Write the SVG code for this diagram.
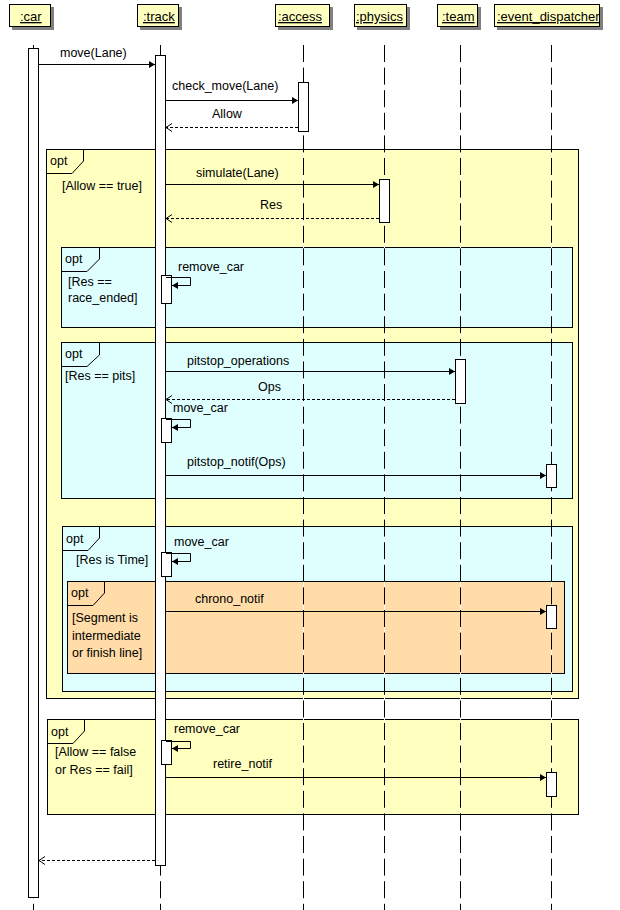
<svg xmlns="http://www.w3.org/2000/svg" width="620" height="910" viewBox="0 0 620 910">
<style>
text{font-family:"Liberation Sans",Arial,sans-serif;font-size:12.5px;fill:#000}
.hd{font-size:13px;text-decoration:underline}
.hbox{fill:#FFFFC0;stroke:#000;stroke-width:1}
.shadow{fill:#808080}
.fy{fill:#FFFFC0;stroke:#000;stroke-width:1}
.fc{fill:#DFFFFF;stroke:#000;stroke-width:1}
.fo{fill:#FFDCA8;stroke:#000;stroke-width:1}
.tab{fill:none;stroke:#000;stroke-width:1}
.llw{stroke:#fff;stroke-width:1}
.ll{stroke:#000;stroke-width:1;stroke-dasharray:17 5.6}
.act{fill:#fff;stroke:#000;stroke-width:1}
.msg{fill:none;stroke:#000;stroke-width:1;marker-end:url(#fa)}
.ret{fill:none;stroke:#000;stroke-width:1;stroke-dasharray:3 2;marker-end:url(#oa)}
</style>
<defs>
<marker id="fa" markerUnits="userSpaceOnUse" markerWidth="8" markerHeight="9" refX="6" refY="4" orient="auto" overflow="visible">
<path d="M0,0.5 L6,4 L0,7.5 z" fill="#000"/>
</marker>
<marker id="oa" markerUnits="userSpaceOnUse" markerWidth="8" markerHeight="10" refX="6" refY="4" orient="auto" overflow="visible">
<path d="M0,0 L6,4 L0,8" fill="none" stroke="#000" stroke-width="1"/>
</marker>
</defs>
<rect width="620" height="910" fill="#fff"/>

<!-- frames -->
<g id="frame_allow_true">
<rect class="fy" x="46.5" y="149.5" width="532" height="549"/>
<path class="tab" d="M46.5,173.5 H72 L83.5,161 V149.5"/>
<text x="50" y="165">opt</text>
<text x="62" y="190">[Allow == true]</text>
</g>
<g id="frame_race_ended">
<rect class="fc" x="61.5" y="247.5" width="511" height="80"/>
<path class="tab" d="M61.5,271.5 H87 L99.5,259 V247.5"/>
<text x="65" y="263">opt</text>
<text x="68" y="286">[Res ==</text>
<text x="68" y="302">race_ended]</text>
</g>
<g id="frame_pits">
<rect class="fc" x="61.5" y="342.5" width="511" height="156"/>
<path class="tab" d="M61.5,366.5 H87 L99.5,355 V342.5"/>
<text x="65" y="358">opt</text>
<text x="65" y="380">[Res == pits]</text>
</g>
<g id="frame_time">
<rect class="fc" x="62.5" y="526.5" width="510" height="165"/>
<path class="tab" d="M62.5,550.5 H88 L99.5,538 V526.5"/>
<text x="66" y="543">opt</text>
<text x="76" y="564">[Res is Time]</text>
</g>
<g id="frame_segment">
<rect class="fo" x="67.5" y="581.5" width="497" height="92"/>
<path class="tab" d="M67.5,605.5 H93 L104.5,593 V581.5"/>
<text x="71" y="597">opt</text>
<text x="72" y="622">[Segment is</text>
<text x="72" y="640">intermediate</text>
<text x="72" y="657">or finish line]</text>
</g>
<g id="frame_fail">
<rect class="fy" x="47.5" y="719.5" width="531" height="95"/>
<path class="tab" d="M47.5,743.5 H73 L84.5,731 V719.5"/>
<text x="51" y="736">opt</text>
<text x="55" y="756">[Allow == false</text>
<text x="55" y="774">or Res == fail]</text>
</g>

<!-- lifelines -->
<g id="lifelines">
<line class="llw" x1="33.5" y1="45" x2="33.5" y2="910"/>
<line class="ll" x1="33.5" y1="45" x2="33.5" y2="910"/>
<line class="llw" x1="160.5" y1="45" x2="160.5" y2="910"/>
<line class="ll" x1="160.5" y1="45" x2="160.5" y2="910"/>
<line class="llw" x1="303.5" y1="45" x2="303.5" y2="910"/>
<line class="ll" x1="303.5" y1="45" x2="303.5" y2="910"/>
<line class="llw" x1="384.5" y1="45" x2="384.5" y2="910"/>
<line class="ll" x1="384.5" y1="45" x2="384.5" y2="910"/>
<line class="llw" x1="460.5" y1="45" x2="460.5" y2="910"/>
<line class="ll" x1="460.5" y1="45" x2="460.5" y2="910"/>
<line class="llw" x1="551.5" y1="45" x2="551.5" y2="910"/>
<line class="ll" x1="551.5" y1="45" x2="551.5" y2="910"/>
</g>

<!-- participants -->
<g id="car">
<rect class="shadow" x="12" y="7" width="42" height="23"/>
<rect class="hbox" x="9.5" y="4.5" width="41" height="22"/>
<text class="hd" x="20" y="21">:car</text>
<rect class="act" x="28.5" y="48.5" width="10" height="849"/>
</g>
<g id="track">
<rect class="shadow" x="140" y="7" width="42" height="23"/>
<rect class="hbox" x="137.5" y="4.5" width="41" height="22"/>
<text class="hd" x="143" y="21">:track</text>
<rect class="act" x="155.5" y="55.5" width="10" height="810"/>
<rect class="act" x="161.5" y="275.5" width="10" height="28"/>
<rect class="act" x="161.5" y="418.5" width="10" height="24"/>
<rect class="act" x="161.5" y="552.5" width="10" height="24"/>
<rect class="act" x="161.5" y="740.5" width="10" height="24"/>
</g>
<g id="access">
<rect class="shadow" x="278" y="7" width="55" height="23"/>
<rect class="hbox" x="275.5" y="4.5" width="54" height="22"/>
<text class="hd" x="278" y="21">:access</text>
<rect class="act" x="298.5" y="82.5" width="10" height="49"/>
</g>
<g id="physics">
<rect class="shadow" x="357" y="7" width="53" height="23"/>
<rect class="hbox" x="354.5" y="4.5" width="52" height="22"/>
<text class="hd" x="356" y="21">:physics</text>
<rect class="act" x="379.5" y="179.5" width="10" height="43"/>
</g>
<g id="team">
<rect class="shadow" x="440" y="7" width="41" height="23"/>
<rect class="hbox" x="437.5" y="4.5" width="40" height="22"/>
<text class="hd" x="442" y="21">:team</text>
<rect class="act" x="455.5" y="359.5" width="10" height="44"/>
</g>
<g id="event_dispatcher">
<rect class="shadow" x="497" y="7" width="106" height="23"/>
<rect class="hbox" x="494.5" y="4.5" width="105" height="22"/>
<text class="hd" x="497" y="21">:event_dispatcher</text>
<rect class="act" x="546.5" y="464.5" width="10" height="23"/>
<rect class="act" x="546.5" y="605.5" width="10" height="23"/>
<rect class="act" x="546.5" y="772.5" width="10" height="24"/>
</g>

<!-- connectors -->
<g id="connectors">
<line class="msg" x1="39" y1="64.5" x2="155" y2="64.5"/>
<line class="msg" x1="166" y1="100.5" x2="298" y2="100.5"/>
<line class="ret" x1="298" y1="127.5" x2="166" y2="127.5"/>
<line class="msg" x1="166" y1="184.5" x2="379" y2="184.5"/>
<line class="ret" x1="379" y1="218.5" x2="166" y2="218.5"/>
<path class="msg" d="M166,277.5 H190.5 V285.5 H172"/>
<line class="msg" x1="166" y1="371.5" x2="455" y2="371.5"/>
<line class="ret" x1="455" y1="399.5" x2="166" y2="399.5"/>
<path class="msg" d="M166,419.5 H190.5 V427.5 H172"/>
<line class="msg" x1="166" y1="475.5" x2="546" y2="475.5"/>
<path class="msg" d="M166,553.5 H190.5 V561.5 H172"/>
<line class="msg" x1="166" y1="611.5" x2="546" y2="611.5"/>
<path class="msg" d="M166,741.5 H190.5 V748.5 H172"/>
<line class="msg" x1="166" y1="777.5" x2="546" y2="777.5"/>
<line class="ret" x1="155" y1="860.5" x2="39" y2="860.5"/>
</g>

<!-- message labels -->
<g id="labels">
<text x="60" y="57">move(Lane)</text>
<text x="172" y="90">check_move(Lane)</text>
<text x="212" y="118">Allow</text>
<text x="196" y="177">simulate(Lane)</text>
<text x="260" y="209">Res</text>
<text x="178" y="271">remove_car</text>
<text x="187" y="365">pitstop_operations</text>
<text x="258" y="391">Ops</text>
<text x="173" y="412">move_car</text>
<text x="187" y="466">pitstop_notif(Ops)</text>
<text x="174" y="546">move_car</text>
<text x="195" y="603">chrono_notif</text>
<text x="174" y="733">remove_car</text>
<text x="213" y="768">retire_notif</text>
</g>
</svg>
